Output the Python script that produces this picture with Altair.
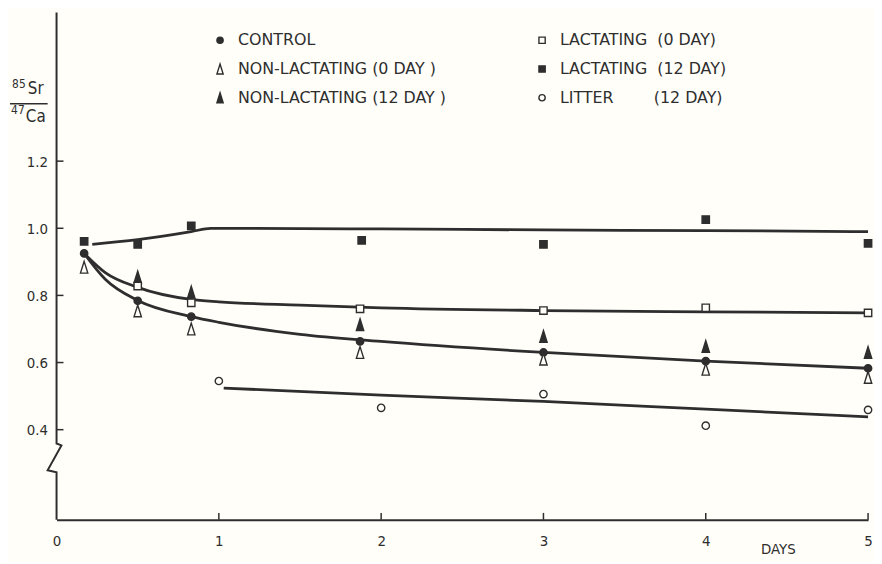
import altair as alt
import pandas as pd

# ---- measured points ----
control_days = [0.17, 0.5, 0.83, 1.87, 3.0, 4.0, 5.0]
control = [0.925, 0.784, 0.737, 0.663, 0.630, 0.604, 0.583]
nonlact0_days = [0.17, 0.5, 0.83, 1.87, 3.0, 4.0, 5.0]
nonlact0 = [0.884, 0.754, 0.700, 0.630, 0.610, 0.580, 0.556]
nonlact12_days = [0.5, 0.83, 1.87, 3.0, 4.0, 5.0]
nonlact12 = [0.855, 0.810, 0.713, 0.678, 0.648, 0.630]
lact0_days = [0.5, 0.83, 1.87, 3.0, 4.0, 5.0]
lact0 = [0.828, 0.778, 0.760, 0.755, 0.763, 0.748]
lact12_days = [0.17, 0.5, 0.83, 1.88, 3.0, 4.0, 5.0]
lact12 = [0.961, 0.952, 1.007, 0.964, 0.952, 1.026, 0.955]
litter_days = [1.0, 2.0, 3.0, 4.0, 5.0]
litter = [0.545, 0.465, 0.506, 0.412, 0.459]

# ---- fitted curves drawn on the figure ----
top_days = [0.22, 0.5, 0.83, 0.95, 2.0, 3.0, 4.0, 5.0]
top_fit = [0.952, 0.966, 0.990, 1.000, 0.998, 0.995, 0.993, 0.990]
mid_days = [0.17, 0.3, 0.5, 0.83, 1.0, 1.5, 2.0, 3.0, 4.0, 5.0]
mid_fit = [0.925, 0.868, 0.824, 0.788, 0.781, 0.771, 0.763, 0.755, 0.751, 0.748]
ctl_days = [0.17, 0.3, 0.5, 0.83, 1.0, 1.5, 2.0, 3.0, 4.0, 5.0]
ctl_fit = [0.925, 0.848, 0.785, 0.737, 0.720, 0.684, 0.663, 0.630, 0.604, 0.583]
lit_days = [1.03, 2.0, 3.0, 4.0, 5.0]
lit_fit = [0.524, 0.503, 0.484, 0.461, 0.438]

# ---- axis decoration ----
x_ticks = [0, 1, 2, 3, 4, 5]
x_inner_ticks = [1, 2, 3, 4, 5]
y_ticks = [0.4, 0.6, 0.8, 1.0, 1.2]
y_domain = [0.1314, 1.6428]
x_domain = [0, 5]
# y-axis line with the break (zigzag)
axis_days = [0.0, 0.0, 0.03, -0.055, 0.0, 0.0]
axis_vals = [1.6428, 0.3587, 0.353, 0.279, 0.273, 0.1314]

S = "\u00a0"
names = [
    "CONTROL",
    "NON-LACTATING (0 DAY )",
    "NON-LACTATING (12 DAY )",
    "LACTATING" + S * 2 + "(0" + S + "DAY)",
    "LACTATING" + S * 2 + "(12" + S + "DAY)",
    "LITTER" + S * 8 + "(12" + S + "DAY)",
]
TRI = "M0,-1.6L1.0,1.6L-1.0,1.6Z"
shapes = ["circle", TRI, TRI, "square", "square", "circle"]
BG = "#fffef9"
INK = "#2e2e2e"
fills = [INK, BG, INK, BG, INK, BG]

rows = []
for name, dd, vv in [
    (names[0], control_days, control),
    (names[1], nonlact0_days, nonlact0),
    (names[2], nonlact12_days, nonlact12),
    (names[3], lact0_days, lact0),
    (names[4], lact12_days, lact12),
    (names[5], litter_days, litter),
]:
    for d, v in zip(dd, vv):
        rows.append({"series": name, "day": d, "val": v})
pts = pd.DataFrame(rows)

crow = []
for cname, dd, vv in [("top", top_days, top_fit), ("mid", mid_days, mid_fit),
                      ("ctl", ctl_days, ctl_fit), ("lit", lit_days, lit_fit)]:
    for d, v in zip(dd, vv):
        crow.append({"curve": cname, "day": d, "val": v})
curves = pd.DataFrame(crow)

FONT = "DejaVu Sans Condensed"
LFONT = "DejaVu Sans"

xs = alt.Scale(domain=x_domain, nice=False, zero=False)
ys = alt.Scale(domain=y_domain, nice=False, zero=False)
x_axis = alt.Axis(values=x_ticks, format="d", grid=False, ticks=False, tickSize=0,
                  domainColor=INK, domainWidth=2, labelFont=FONT, labelFontSize=15,
                  labelColor=INK, labelPadding=14, labelFlush=False,
                  title="DAYS", titleX=728, titleY=29, titleFont=FONT,
                  titleFontSize=15, titleFontWeight="normal", titleColor=INK,
                  titleBaseline="middle", titleAlign="center")
y_axis = alt.Axis(values=y_ticks, format=".1f", grid=False, ticks=False, tickSize=0,
                  domain=False, labelFont=FONT, labelFontSize=15, labelColor=INK,
                  labelPadding=9, title=None)
X = alt.X("day:Q", scale=xs, axis=x_axis)
Y = alt.Y("val:Q", scale=ys, axis=y_axis)

leg = alt.Legend(title=None, orient="none", legendX=157, legendY=20, columns=2,
                 direction="vertical", labelFont=LFONT, labelFontSize=16,
                 labelColor=INK, symbolSize=40, symbolStrokeWidth=1.4,
                 symbolStrokeColor=INK, labelOffset=10, rowPadding=13,
                 columnPadding=88, labelLimit=400, padding=0)

lines = alt.Chart(curves).mark_line(interpolate="monotone", strokeWidth=2.8,
                                    color=INK).encode(x=X, y=Y, detail="curve:N")

points = alt.Chart(pts).mark_point(filled=True, strokeWidth=1.4,
                                   opacity=1).encode(
    x=X, y=Y,
    shape=alt.Shape("series:N", scale=alt.Scale(domain=names, range=shapes), legend=leg),
    fill=alt.Fill("series:N", scale=alt.Scale(domain=names, range=fills), legend=leg),
    stroke=alt.Stroke("series:N", scale=alt.Scale(domain=names, range=[INK] * 6), legend=leg),
    size=alt.value(55),
)

axis_df = pd.DataFrame({"day": axis_days, "val": axis_vals, "i": list(range(len(axis_days)))})
yline = alt.Chart(axis_df).mark_line(color=INK, strokeWidth=2).encode(
    x=X, y=Y, order="i:Q")

xt = alt.Chart(pd.DataFrame({"day": x_inner_ticks})).mark_rule(color=INK, strokeWidth=1.5).encode(
    x=X, y=alt.value(512), y2=alt.value(505))
yt = alt.Chart(pd.DataFrame({"val": y_ticks})).mark_rule(color=INK, strokeWidth=1.5).encode(
    y=Y, x=alt.value(0), x2=alt.value(7))

one = pd.DataFrame({"a": [0]})
def label(txt, x, y, size):
    return alt.Chart(one).mark_text(text=txt, font=FONT, fontSize=size, color=INK,
                                    align="center", baseline="middle").encode(
        x=alt.value(x), y=alt.value(y))

frac = (label("85", -38, 72, 12) + label("Sr", -21, 77, 17) +
        label("47", -39, 98, 12) + label("Ca", -21, 105, 17))
frac_rule = alt.Chart(one).mark_rule(color=INK, strokeWidth=1.5).encode(
    x=alt.value(-47), x2=alt.value(-9), y=alt.value(92))

chart = alt.layer(lines, yline, xt, yt, points, frac, frac_rule).properties(
    width=819, height=512, background=BG,
    padding={"left": 49, "top": 2, "right": 6, "bottom": 40},
    autosize=alt.AutoSizeParams(type="none"),
).configure_view(stroke=None)

chart.save("out.html", embed_options={"renderer": "svg", "actions": False})
